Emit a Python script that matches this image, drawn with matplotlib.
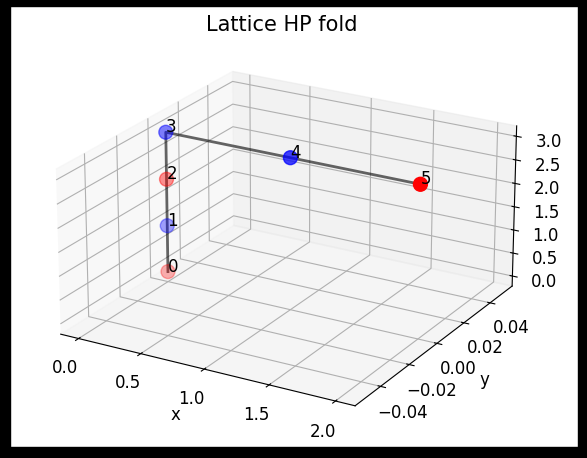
import matplotlib
matplotlib.use("Agg")
import matplotlib.pyplot as plt
from matplotlib.patches import Rectangle

# lattice coordinates of the fold
xs = [0, 0, 0, 0, 1, 2]
ys = [0, 0, 0, 0, 0, 0]
zs = [0, 1, 2, 3, 3, 3]
seq = ["H", "P", "H", "P", "P", "H"]
labels = ["0", "1", "2", "3", "4", "5"]

colors = ["red" if s == "H" else "blue" for s in seq]

W, H = 587, 458
fig = plt.figure(figsize=(W / 100, H / 100), dpi=100)
ax = fig.add_axes([0.005, 0.027, 0.96, 0.92], projection="3d")
ax.view_init(elev=22, azim=-60)
ax.set_proj_type("persp", focal_length=1.4)
ax.set_box_aspect((5.16, 5.16, 2.71), zoom=1.16)

ax.plot(xs, ys, zs, color="k", alpha=0.6, linewidth=2)
ax.scatter(xs, ys, zs, c=colors, s=100)
for x, y, z, lab in zip(xs, ys, zs, labels):
    ax.text(x, y, z, lab, fontsize=12)

ax.set_xlabel("x", fontsize=12)
ax.set_ylabel("y", fontsize=12)
ax.tick_params(labelsize=12)
fig.text(282 / W, 1 - 25 / H, "Lattice HP fold", fontsize=15,
         ha="center", va="center")

# black frame round the picture (thicker at the bottom)
for x0, y0, w, h in [(0, 0, 10, H), (W - 9, 0, 9, H), (0, H - 6, W, 6), (0, 0, W, 11)]:
    fig.add_artist(Rectangle((x0 / W, y0 / H), w / W, h / H, transform=fig.transFigure,
                             color="black", zorder=10))

fig.savefig("out.png", dpi=100)
